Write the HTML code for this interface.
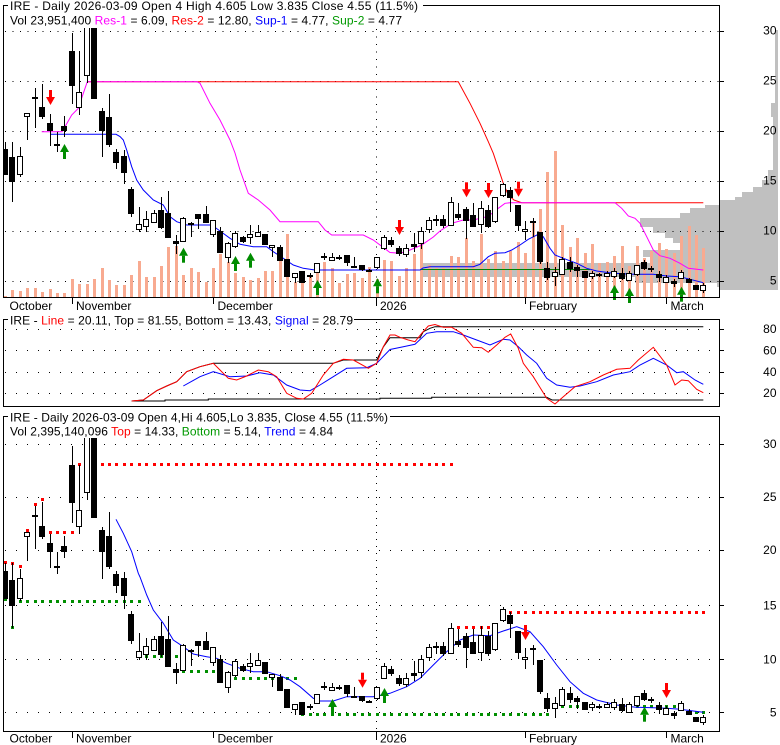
<!DOCTYPE html>
<html><head><meta charset="utf-8">
<style>
html,body{margin:0;padding:0;background:#fff;}
svg{display:block;}
text{font-family:"Liberation Sans",Arial,sans-serif;font-size:12px;fill:#000;}
</style></head>
<body>
<svg id="c" width="780" height="745" viewBox="0 0 780 745" xmlns="http://www.w3.org/2000/svg">
<rect width="780" height="745" fill="#fff"/>
<defs>
<clipPath id="ct"><rect x="3" y="28" width="716" height="269"/></clipPath>
<clipPath id="cb"><rect x="3" y="438" width="716" height="293"/></clipPath>
<clipPath id="cm"><rect x="3" y="319" width="716" height="87"/></clipPath>
</defs>

<!-- volume profile -->
<g id="prof" fill="#c0c0c0" shape-rendering="crispEdges"></g>

<!-- grids -->
<g stroke="#000" stroke-width="1" shape-rendering="crispEdges" fill="none">
  <g stroke-dasharray="1 6.5">
    <line x1="5" y1="31.5" x2="719" y2="31.5"/>
    <line x1="5" y1="81.5" x2="719" y2="81.5"/>
    <line x1="5" y1="131.5" x2="719" y2="131.5"/>
    <line x1="5" y1="181.5" x2="719" y2="181.5"/>
    <line x1="5" y1="231.5" x2="719" y2="231.5"/>
    <line x1="5" y1="281.5" x2="719" y2="281.5"/>
    <line x1="376.5" y1="29" x2="376.5" y2="297"/>
  </g>
  <g stroke-dasharray="1 10">
    <line x1="5" y1="329.5" x2="719" y2="329.5"/>
    <line x1="5" y1="350.5" x2="719" y2="350.5"/>
    <line x1="5" y1="372.5" x2="719" y2="372.5"/>
    <line x1="5" y1="393.5" x2="719" y2="393.5"/>
    <line x1="5" y1="444.5" x2="719" y2="444.5"/>
    <line x1="5" y1="497.5" x2="719" y2="497.5"/>
    <line x1="5" y1="550.5" x2="719" y2="550.5"/>
    <line x1="5" y1="605.5" x2="719" y2="605.5"/>
    <line x1="5" y1="659.5" x2="719" y2="659.5"/>
    <line x1="5" y1="712.5" x2="719" y2="712.5"/>
  </g>
  <g stroke-dasharray="1 6">
    <line x1="376.5" y1="322" x2="376.5" y2="406"/>
    <line x1="376.5" y1="441" x2="376.5" y2="731"/>
  </g>
  <!-- right ticks -->
  <line x1="719" y1="31.5" x2="724" y2="31.5"/>
  <line x1="719" y1="81.5" x2="724" y2="81.5"/>
  <line x1="719" y1="131.5" x2="724" y2="131.5"/>
  <line x1="719" y1="181.5" x2="724" y2="181.5"/>
  <line x1="719" y1="231.5" x2="724" y2="231.5"/>
  <line x1="719" y1="281.5" x2="724" y2="281.5"/>
  <line x1="719" y1="329.5" x2="724" y2="329.5"/>
  <line x1="719" y1="350.5" x2="724" y2="350.5"/>
  <line x1="719" y1="372.5" x2="724" y2="372.5"/>
  <line x1="719" y1="393.5" x2="724" y2="393.5"/>
  <line x1="719" y1="444.5" x2="724" y2="444.5"/>
  <line x1="719" y1="497.5" x2="724" y2="497.5"/>
  <line x1="719" y1="550.5" x2="724" y2="550.5"/>
  <line x1="719" y1="605.5" x2="724" y2="605.5"/>
  <line x1="719" y1="659.5" x2="724" y2="659.5"/>
  <line x1="719" y1="712.5" x2="724" y2="712.5"/>
</g>

<g id="vol" fill="#f8aa90" shape-rendering="crispEdges" clip-path="url(#ct)"></g>
<g id="linesT" clip-path="url(#ct)" fill="none" stroke-width="1"></g>
<g id="cT" clip-path="url(#ct)" shape-rendering="crispEdges"></g>

<g id="linesM" clip-path="url(#cm)" fill="none" stroke-width="1"></g>

<g id="sqB" clip-path="url(#cb)" shape-rendering="crispEdges"></g>
<g id="linesB" clip-path="url(#cb)" fill="none" stroke-width="1"></g>
<g id="cB" clip-path="url(#cb)" shape-rendering="crispEdges"></g>

<g id="arrows"></g>

<!-- frames -->
<g stroke="#000" stroke-width="1" fill="none" shape-rendering="crispEdges">
  <polyline points="8,5.5 3.5,5.5 3.5,297.5 719.5,297.5 719.5,5.5 423,5.5"/>
  <polyline points="8,319.5 3.5,319.5 3.5,406.5 719.5,406.5 719.5,319.5 354,319.5"/>
  <polyline points="8,416.5 3.5,416.5 3.5,731.5 719.5,731.5 719.5,416.5 390,416.5"/>
  <!-- month ticks top -->
  <line x1="72.5" y1="298" x2="72.5" y2="304"/>
  <line x1="213.5" y1="298" x2="213.5" y2="304"/>
  <line x1="376.5" y1="298" x2="376.5" y2="306"/>
  <line x1="525.5" y1="298" x2="525.5" y2="304"/>
  <line x1="666.5" y1="298" x2="666.5" y2="304"/>
  <!-- month ticks bottom -->
  <line x1="72.5" y1="732" x2="72.5" y2="738"/>
  <line x1="213.5" y1="732" x2="213.5" y2="738"/>
  <line x1="376.5" y1="732" x2="376.5" y2="740"/>
  <line x1="525.5" y1="732" x2="525.5" y2="738"/>
  <line x1="666.5" y1="732" x2="666.5" y2="738"/>
</g>

<!-- titles -->
<text x="10" y="10" textLength="408">IRE - Daily 2026-03-09 Open 4  High 4.605  Low 3.835  Close 4.55 (11.5%)</text>
<text x="10" y="24.3" textLength="392">Vol 23,951,400 <tspan fill="#ff00ff">Res-1</tspan> = 6.09, <tspan fill="#ff0000">Res-2</tspan> = 12.80, <tspan fill="#0000ff">Sup-1</tspan> = 4.77, <tspan fill="#009900">Sup-2</tspan> = 4.77</text>
<text x="10" y="324.3" textLength="343">IRE - <tspan fill="#ff0000">Line</tspan> = 20.11, Top = 81.55, Bottom = 13.43, <tspan fill="#0000ff">Signal</tspan> = 28.79</text>
<text x="10" y="421.7" textLength="378">IRE - Daily 2026-03-09 Open 4,Hi 4.605,Lo 3.835, Close 4.55 (11.5%)</text>
<text x="10" y="435.6" textLength="323">Vol 2,395,140,096 <tspan fill="#ff0000">Top</tspan> = 14.33, <tspan fill="#009900">Bottom</tspan> = 5.14, <tspan fill="#0000ff">Trend</tspan> = 4.84</text>

<!-- x labels -->
<text x="9.5" y="310">October</text>
<text x="76" y="310">November</text>
<text x="217.5" y="310">December</text>
<text x="380" y="310">2026</text>
<text x="529" y="310">February</text>
<text x="670.5" y="310">March</text>
<text x="9.5" y="742.5">October</text>
<text x="76" y="742.5">November</text>
<text x="217.5" y="742.5">December</text>
<text x="380" y="742.5">2026</text>
<text x="529" y="742.5">February</text>
<text x="670.5" y="742.5">March</text>

<!-- right labels -->
<g text-anchor="end">
<text x="776.5" y="34.5">30</text>
<text x="776.5" y="84.5">25</text>
<text x="776.5" y="134.5">20</text>
<text x="776.5" y="184.5">15</text>
<text x="776.5" y="234.5">10</text>
<text x="776.5" y="284.5">5</text>
<text x="776.5" y="332.8">80</text>
<text x="776.5" y="354.3">60</text>
<text x="776.5" y="376">40</text>
<text x="776.5" y="397">20</text>
<text x="776.5" y="447.8">30</text>
<text x="776.5" y="500.8">25</text>
<text x="776.5" y="554">20</text>
<text x="776.5" y="609.3">15</text>
<text x="776.5" y="663.3">10</text>
<text x="776.5" y="716.7">5</text>
</g>
</svg>
<script>
(function(){
var NS='http://www.w3.org/2000/svg';
function el(p,t,a){var e=document.createElementNS(NS,t);for(var k in a)e.setAttribute(k,a[k]);p.appendChild(e);return e;}
function G(id){return document.getElementById(id);}
function X(i){return Math.round(5+i*7.43);}
var C=[
['b',141.7,175,149.3,175],['b',141.7,201.7,157,181.7],['w',146.7,177,156,175],['w',112.7,140,112.7,117.3],['x',88.3,128.3,97.7,97.7],
['b',84.3,119.3,107.3,117.3],['b',114.3,146,123.3,131],['x',131.7,152,145,145],['b',116,136.7,126,131],['b',32.7,104.3,50.7,85.7],
['w',50.7,115,92.3,108.3],['w',20,82.7,20,76],['b',20,99.3,20,99.3],['b',108,156.7,111,131],['b',94.3,146.7,116.7,145],
['b',149,169.3,151.7,162.7],['b',150,184.3,156,172.7],['b',186.7,216.7,189.3,214],['w',206.7,232.3,224,230],['w',211,232,219.3,227.3],
['w',210,223.3,212.7,223.3],['b',196.7,229,210,227.7],['b',191,238.3,212.7,238.3],['b',235,254.3,240.7,244.3],['w',216.7,241.7,218.3,241.7],
['b',222,237.3,222.7,224.3],['b',214,229.3,214,219.3],['b',206,222.7,214,222.7],['w',220,237.3,220,235],['b',227.3,253.3,230.7,253.3],
['w',241.7,262.7,243.3,258.3],['w',231,248,233.3,246.7],['b',236,243,237.3,241.7],['w',225,244.3,234.3,238.3],['w',225,237.3,231.7,237.3],
['b',234,245,234,245],['w',245,256.7,245,248.3],['b',245,261,247.3,261],['b',259.3,276.7,259.3,276.7],['w',273.3,282.7,273.3,278.3],
['b',271,282.7,271,282.7],['x',273.3,278.3,276,276],['w',263.3,273.3,263.3,273.3],['x',252.7,260,256.7,256.7],['w',253.3,261,257.3,261],
['x',255.3,260,257.7,257.7],['b',255.3,266,255.3,263.3],['x',256.7,266.7,266.7,266.7],['b',265.3,270.7,265.3,270],['x',269,272.3,270.7,270.7],
['w',256.7,269.3,256.7,268.3],['w',235,250,237.3,249.3],['b',237.3,246.7,240,245],['b',246,256,248.3,254],['w',244.3,257.3,248.3,255],
['b',233.3,251.7,244.3,246.7],['w',227.3,249,230.7,244.3],['w',216.7,232.7,220,230],['b',215,226,219.3,221],['b',215,228.3,219.3,226],
['w',197.3,226,201.7,226],['b',202.7,220,214,217.7],['b',206.7,239.3,209.3,220.7],['b',203.3,226.7,215,226.7],['w',200.7,233.3,208.3,225],
['b',205,228.3,210,226.7],['w',197.3,223.3,197.3,222.3],['w',182.7,196.7,184.3,196],['b',187.3,211.7,190,198.3],['b',205,231,205,225.7],
['w',221,240,229.3,231.7],['b',218.3,236.7,220.7,223],['b',231.7,264,231.7,261.7],['b',262.3,280,267.5,277.5],['w',266.7,285.7,272.3,277.3],
['w',256.7,275,259.3,275],['b',257.3,271.7,262.3,269.3],['b',265,277.3,267.3,271],['b',271,278.3,271,278.3],['w',271,279,273.3,276.7],
['x',272.7,277.3,275.3,275.3],['w',270.7,276.7,272.5,276.7],['w',268.3,278.3,270.7,276.7],['b',267.7,280.3,272.5,279.3],['w',271,281,273.3,281],
['w',265,275.7,265,275],['b',260,270,262.3,269.3],['x',266,271.7,269,269],['b',271,282,273.5,278.3],['w',275,283.3,276.7,283.3],
['b',279.3,286.7,281,284.3],['w',270,279.3,271.7,279.3],['b',277.7,283.3,279.3,282.7],['b',285,290,285,290],['w',282.7,292.7,285,291]
];
var V=[295.7,290,291,287.7,287.7,291.7,289,292.7,292.7,278.7,284,284,278.7,267.7,280,285,285,275,261,276.7,277.3,266,246.7,245.7,275,267.7,271.7,281.7,268.3,254.3,261.7,273.3,277.3,280,278.3,270.7,270.7,260,234,281.7,278.3,276,268,262.3,268.3,283.3,274.3,273.3,277.7,266.7,279,260,261,276,268,254,244,265,268,267.7,256,256.7,238.3,260.7,234,259,251,260.7,251,241.7,252.7,222,209,171.7,151,225,246.7,238.3,252.7,244,263.3,261.7,256,246,266,246,258.3,251,242.7,249.3,253.3,236,226,235,247.7];
var P=[[30,103,775],[103,117,771],[117,170,773],[170,180,768],[180,187,762],[187,192,753],[192,197,742],[197,200,735],[200,205,720],[205,208,705],[208,213,690],[213,218,680],[218,227,640],[227,233,653],[233,238,665],[238,243,673],[243,250,683],[250,257,643],[257,263,650],[263,277,421],[277,283,635],[283,287,717],[287,290,720]];
P.forEach(function(r){el(G('prof'),'rect',{x:r[2],y:r[0],width:778-r[2],height:r[1]-r[0]});});
V.forEach(function(v,i){var y=Math.round(v);el(G('vol'),'rect',{x:X(i)-1,y:y,width:3,height:297-y});});
function candles(g,m){
 C.forEach(function(c,i){
  var xc=X(i),x0=xc-3;
  var hi=Math.round(m(c[1])),lo=Math.round(m(c[2])),t=Math.round(m(c[3])),b=Math.round(m(c[4]));
  el(g,'rect',{x:xc,y:hi,width:1,height:Math.max(1,lo-hi),fill:'#000'});
  if(c[0]==='b') el(g,'rect',{x:x0,y:t,width:6,height:Math.max(2,b-t),fill:'#000'});
  else if(c[0]==='w') el(g,'rect',{x:x0+0.5,y:t+0.5,width:5,height:Math.max(1,b-t-1),fill:'#fff',stroke:'#000','stroke-width':1});
  else el(g,'rect',{x:x0,y:t-1,width:6,height:2,fill:'#000'});
 });
}
function mb(y){return 712.7-(281-y)*1.0737;}
candles(G('cT'),function(y){return y;});
candles(G('cB'),mb);
function pl(g,pts,col){el(g,'polyline',{points:pts.map(function(p){return p[0]+','+p[1];}).join(' '),stroke:col,fill:'none','stroke-width':1});}
// top lines
pl(G('linesT'),[[87.3,81.7],[458.3,81.7],[470,103.3],[480,123.3],[488.3,141.7],[493.3,153.3],[498.3,168.3],[503.3,183.3],[508.3,195],[514,200],[521.7,202.7],[703.3,202.7]],'#ff0000');
pl(G('linesT'),[[420,269.5],[590,269.5]],'#008000');
pl(G('linesT'),[[50,134.3],[116,134.3],[120,136.5],[123.3,140],[126.7,150],[131.7,166.7],[136.7,180],[143.3,190],[153.3,200],[163.3,205],[170,216.7],[176.7,221.7],[186.7,225],[211.7,225],[220,231],[230,238.3],[240,244.3],[253.3,246.7],[266.7,246.7],[273.3,251.7],[283.3,258.3],[293.3,265],[303.3,268.3],[315,270],[420,270],[423,268],[430,266.7],[473.3,266.7],[480,264.3],[488.3,256.7],[495,253.3],[505,252.7],[511.7,250],[520,245],[528.3,239.3],[538.3,234.3],[543.3,236.7],[550,248.3],[555,255],[563.3,258.3],[576.7,263.3],[586.7,268.3],[596.7,271],[613.3,273.3],[633.3,274.3],[653.3,274.3],[666.7,276],[680,276.7],[690,279.3],[703.3,282.7]],'#0000ff');
pl(G('linesT'),[[41.7,131.7],[62,131.7],[65,126.7],[71.7,115],[78.3,108.3],[83.3,93.3],[87.3,81.7],[197,81.7],[200,83.3],[210,103.3],[220,120],[230,140],[235,153],[240,170],[248.3,193.3],[258.3,200],[270,210],[280,221.7],[318.3,221.7],[325,230],[331.7,235],[363.3,235],[373.3,240],[390,252.5],[400,253.3],[410,250],[421.7,245],[433.3,237],[440,231],[451.7,223.3],[463.3,220],[473.3,220],[486.7,216.7],[493.3,212.7],[498.3,208.3],[505,203.3],[510,202.7],[615,202.7],[621.7,208.3],[628.3,216],[635,218.3],[640,223.3],[646.7,236.7],[653.3,250],[660,255.7],[670,258.3],[680,263.3],[688.3,268.3],[703.3,270]],'#ff00ff');
// middle lines
pl(G('linesM'),[[131.7,401],[165,401],[165,400],[208.3,400],[208.3,399],[380,399],[380,398.3],[431.7,398.3],[431.7,397.3],[546.7,397.3],[552,400],[703.3,400]],'#000');
pl(G('linesM'),[[131.7,401],[143.3,400],[156.7,390.7],[166.7,386],[176.7,381.7],[186.7,371.7],[200,366.7],[213.3,363.3],[333.3,363.3],[343.3,360],[376.7,360],[383.3,347],[390,337.7],[420,337.7],[423.3,331.7],[430,328.3],[435,326.7],[703.3,326.7]],'#000');
pl(G('linesM'),[[183.3,386],[200,376.7],[213.3,371.7],[230,376.7],[246.7,376],[260,372.7],[273.3,375],[286.7,385],[300,390],[310,390.7],[320,385],[333.3,376.7],[346.7,368.3],[366.7,367.7],[376.7,363.3],[390,349.5],[403.3,346.7],[415,344.3],[426.7,333.3],[436.7,331.7],[453.3,331.7],[463.3,335],[476.7,340],[490,345],[503.3,339.3],[510,340],[518.3,346.7],[526.7,355],[536.7,363.3],[546.7,378.3],[556.7,385],[570,387.3],[580,386],[596.7,381.7],[613.3,375],[630,371.7],[640,365],[653.3,358.3],[666.7,365],[676.7,372.7],[683.3,371.7],[695,380],[703.3,384.3]],'#0000ff');
pl(G('linesM'),[[131.7,401],[143.3,400],[156.7,390.7],[166.7,386],[176.7,381.7],[186.7,371.7],[200,366.7],[213.3,363.3],[220,370],[228.3,378.3],[236.7,380],[246.7,376],[258.3,370],[268.3,371.7],[276.7,376.7],[286.7,393.3],[296.7,398.3],[303.3,399],[311.7,393.3],[323.3,375],[333.3,363.3],[343.3,359.3],[353.3,360],[368.3,368.3],[376.7,363.3],[383.3,346.7],[390,335],[395,335],[400,337.3],[408.3,340],[415,341.7],[421.7,333.3],[428.3,326],[435,324.5],[443.3,327.3],[451.7,327.3],[461.7,333.3],[473.3,347.3],[481.7,347.7],[488.3,352.3],[496.7,345],[505,337.3],[510.7,334],[518.3,348.3],[523.3,363.3],[533.3,376.7],[546.7,398.3],[555,404],[563.3,396.7],[575,386.7],[590,381.7],[603.3,375],[616.7,369.3],[630,368.3],[638.3,360],[653.3,347.3],[666.7,365],[675,385],[681.7,380],[688.3,380.7],[696.7,389.3],[703.3,392.7]],'#ff0000');
// bottom trend
pl(G('linesB'),[[116,519.3],[123.3,533.3],[131.7,551.7],[138.3,573.3],[140,577],[146.7,595],[153.3,610],[163.3,623.3],[173.3,640],[183.3,646.7],[193.3,654],[206.7,656.7],[216.7,658.3],[226.7,663.3],[240,668.3],[253.3,671.7],[266.7,671.7],[280,675.7],[290,680],[300,686.7],[313.3,698.3],[320,701],[333.3,701],[346.7,696.7],[360,696.7],[373.3,696.7],[390,693.3],[406.7,686.7],[420,678.3],[433.3,665],[446.7,651.7],[460,640],[473.3,635],[490,635.7],[503.3,631],[516.7,626.7],[530,631.7],[543.3,646.7],[556.7,665],[570,681.7],[583.3,693.3],[596.7,700],[616.7,705],[636.7,707.3],[653.3,707.7],[666.7,708.3],[680,709.3],[693.3,711],[703.3,712.3]],'#0000ff');
// bottom dotted squares
function sq(i,Y,col){el(G('sqB'),'rect',{x:X(i)-1,y:Math.round(Y)-1,width:3,height:3,fill:col});}
function run(a,b,Y,col){for(var i=a;i<=b;i++)sq(i,Y,col);}
var R='#ff0000',GR='#008f00';
[561.7,563.3,566,530,504,499.3].forEach(function(y,i){sq(i,y,R);});
run(6,9,532,R);run(10,60,464.3,R);run(61,66,627.3,R);run(67,94,612.3,R);
sq(0,599,GR);sq(1,626.7,GR);run(2,18,600.7,GR);run(19,23,656,GR);run(24,29,670.7,GR);run(30,39,678.3,GR);
run(40,73,714.3,GR);run(75,77,706,GR);run(85,90,706,GR);run(93,94,711.7,GR);
// arrows
function arrow(i,tip,dir,col){
 var g=G('arrows'),cx=X(i)+0.5;
 if(dir>0){el(g,'polygon',{points:(cx-4.5)+','+(tip+8)+' '+cx+','+tip+' '+(cx+4.5)+','+(tip+8),fill:col});
  el(g,'rect',{x:cx-1.5,y:tip+8,width:3,height:7,fill:col});}
 else{el(g,'polygon',{points:(cx-4.5)+','+(tip-8)+' '+cx+','+tip+' '+(cx+4.5)+','+(tip-8),fill:col});
  el(g,'rect',{x:cx-1.5,y:tip-15,width:3,height:7,fill:col});}
}
var AR='#ff0000',AG='#008c00';
[[6,105],[53,235],[62,197.3],[65,198],[69,196.7]].forEach(function(a){arrow(a[0],a[1],-1,AR);});
[[8,144],[24,247.7],[31,256],[33,252.7],[42,280],[50,278.3],[82,285],[84,288],[91,286.7]].forEach(function(a){arrow(a[0],a[1],1,AG);});
[[48,687.7],[70,640],[89,698]].forEach(function(a){arrow(a[0],a[1],-1,AR);});
[[44,699],[51,688],[86,706.7]].forEach(function(a){arrow(a[0],a[1],1,AG);});
})();
</script>
</body></html>
